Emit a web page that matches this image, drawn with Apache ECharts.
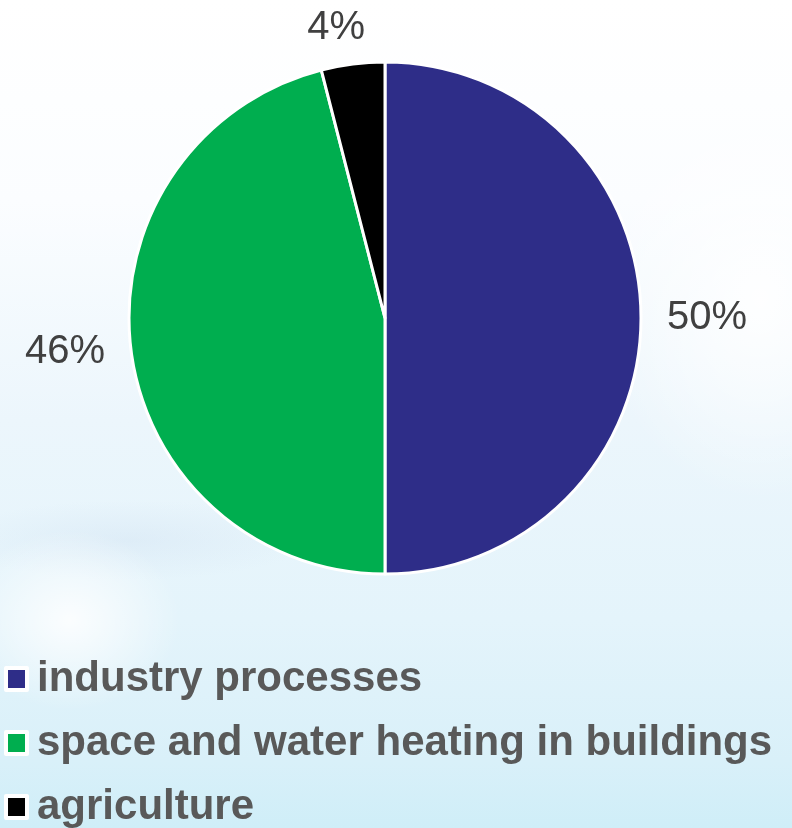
<!DOCTYPE html>
<html>
<head>
<meta charset="utf-8">
<script src="https://cdn.jsdelivr.net/npm/echarts@6/dist/echarts.min.js"></script>
<style>
html,body{margin:0;padding:0;}
body{width:792px;height:828px;overflow:hidden;
background:
 radial-gradient(ellipse 110px 90px at 70px 620px, rgba(255,255,255,0.85), rgba(255,255,255,0) 100%),
 radial-gradient(ellipse 180px 40px at 130px 540px, rgba(205,222,240,0.35), rgba(205,222,240,0) 100%),
 radial-gradient(ellipse 160px 200px at 760px 300px, rgba(255,255,255,0.9), rgba(255,255,255,0) 100%),
 linear-gradient(180deg, #ffffff 0px, #fbfdff 200px, #ecf6fc 420px, #e4f4fb 620px, #d9f0f9 760px, #cfeef8 828px);
}
#chart{width:792px;height:828px;}
</style>
</head>
<body>
<div id="chart"></div>
<script>
const categories = ['industry processes', 'space and water heating in buildings', 'agriculture'];
const shares = [50, 46, 4];
const sliceColors = ['#2E2D88', '#00AE4F', '#000000'];

const chart = echarts.init(document.getElementById('chart'), null, {renderer: 'canvas'});
chart.setOption({
  animation: false,
  backgroundColor: 'transparent',
  legend: {
    orient: 'vertical',
    left: 4,
    top: 654,
    height: 220,
    padding: 0,
    itemWidth: 21,
    itemHeight: 22,
    itemGap: 14,
    icon: 'rect',
    itemStyle: {borderColor: '#ffffff', borderWidth: 4},
    textStyle: {
      fontFamily: 'Liberation Sans, Arial, sans-serif',
      fontSize: 42,
      fontWeight: 'bold',
      color: '#595959',
      lineHeight: 50,
      padding: [0, 0, 0, 5]
    },
    data: categories
  },
  series: [{
    type: 'pie',
    center: [385, 318],
    radius: [0, 256],
    startAngle: 90,
    clockwise: true,
    avoidLabelOverlap: false,
    itemStyle: {borderColor: '#ffffff', borderWidth: 3},
    label: {
      show: true,
      position: 'outside',
      formatter: '{c}%',
      fontFamily: 'Liberation Sans, Arial, sans-serif',
      fontSize: 40,
      color: '#404040',
      distanceToLabelLine: 5
    },
    labelLine: {show: false, length: 15, length2: 6},
    labelLayout: function (p) {
      if (p.dataIndex === 2) { return {dx: 25, dy: -21}; }
      return {};
    },
    emphasis: {disabled: true},
    data: categories.map((n, i) => ({name: n, value: shares[i], itemStyle: {color: sliceColors[i]}}))
  }]
});
</script>
</body>
</html>
